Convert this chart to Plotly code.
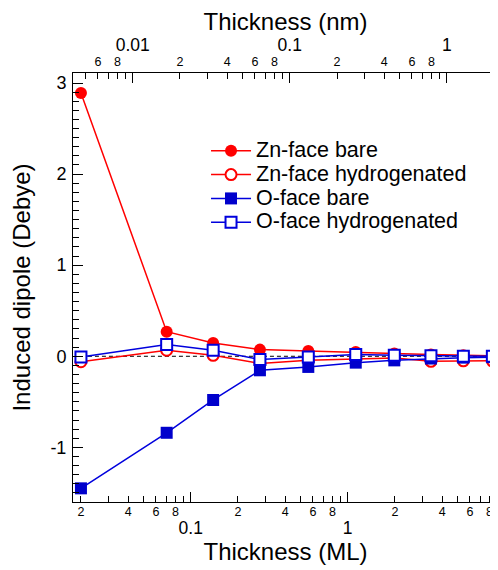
import math
import plotly.graph_objects as go

# ---------------- data ----------------
thickness_ml = [0.02, 0.0703, 0.139, 0.276, 0.561, 1.125, 1.98, 3.39, 5.45, 8.34]
zn_bare = [2.89, 0.27, 0.146, 0.073, 0.058, 0.047, 0.03, 0.02, 0.01, 0.005]
zn_hydro = [-0.06, 0.066, 0.01, -0.08, -0.045, -0.03, -0.02, -0.055, -0.05, -0.05]
o_bare = [-1.45, -0.84, -0.48, -0.154, -0.117, -0.07, -0.045, -0.025, -0.015, -0.01]
o_hydro = [-0.007, 0.13, 0.066, -0.036, -0.008, 0.02, 0.01, 0.005, 0.0, 0.0]

series_names = ["Zn-face bare", "Zn-face hydrogenated", "O-face bare", "O-face hydrogenated"]

nm_per_ml = 0.234  # scale between the two x axes

# tick labels
ml_major_vals = [0.1, 1]
ml_major_text = ["0.1", "1"]
ml_minor_vals = [m * d for d in (0.01, 0.1, 1) for m in range(2, 10)]
ml_minor_text = [str(m) if m % 2 == 0 else "" for d in (0.01, 0.1, 1) for m in range(2, 10)]

nm_major_vals = [0.01, 0.1, 1]
nm_major_text = ["0.01", "0.1", "1"]
nm_minor_vals = [m * d for d in (0.001, 0.01, 0.1, 1) for m in range(2, 10)]
nm_minor_text = [str(m) if m % 2 == 0 else "" for d in (0.001, 0.01, 0.1, 1) for m in range(2, 10)]

y_major_vals = [-1, 0, 1, 2, 3]
y_major_text = ["-1", "0", "1", "2", "3"]

# ---------------- figure ----------------
FONT = "Liberation Sans, Arial, Helvetica, sans-serif"
RED = "#ff0000"
BLUE = "#0000dd"

x_range = [math.log10(0.0178), math.log10(9.06)]
x_range_nm = [r + math.log10(nm_per_ml) for r in x_range]
thickness_nm = [v * nm_per_ml for v in thickness_ml]


def legend_label(name):
    return "<span style='font-size:21.5px'>" + name + "</span>"


fig = go.Figure()

# invisible carriers so that the secondary axes are drawn
for xa, xs in (("x2", thickness_nm), ("x3", thickness_ml), ("x4", thickness_nm)):
    fig.add_trace(go.Scatter(x=xs, y=zn_bare, xaxis=xa, yaxis="y", mode="markers",
                             marker=dict(opacity=0), showlegend=False, hoverinfo="skip"))

# zero reference line
fig.add_trace(go.Scatter(
    x=[thickness_ml[0], thickness_ml[-1]], y=[0, 0], mode="lines",
    line=dict(color="black", width=1, dash="4px,3px"), showlegend=False, hoverinfo="skip"))

fig.add_trace(go.Scatter(
    x=thickness_ml, y=zn_bare, name=legend_label(series_names[0]), mode="lines+markers",
    line=dict(color=RED, width=1.5),
    marker=dict(symbol="circle", size=12, color=RED, line=dict(width=0))))
fig.add_trace(go.Scatter(
    x=thickness_ml, y=zn_hydro, name=legend_label(series_names[1]), mode="lines+markers",
    line=dict(color=RED, width=1.5),
    marker=dict(symbol="circle", size=11, color="white", line=dict(width=2, color=RED))))
fig.add_trace(go.Scatter(
    x=thickness_ml, y=o_bare, name=legend_label(series_names[2]), mode="lines+markers",
    line=dict(color=BLUE, width=1.5),
    marker=dict(symbol="square", size=12, color="#0000cc", line=dict(width=0))))
fig.add_trace(go.Scatter(
    x=thickness_ml, y=o_hydro, name=legend_label(series_names[3]), mode="lines+markers",
    line=dict(color=BLUE, width=1.5),
    marker=dict(symbol="square", size=11, color="white", line=dict(width=2, color=BLUE))))

base = dict(showgrid=False, zeroline=False, automargin=False, tickcolor="black",
            ticks="inside", tickmode="array", ticklabeloverflow="allow")

# the page body adds an 8px offset; the plot area spans page x 73..498
fig.update_layout(
    width=498, height=562,
    margin=dict(l=65, r=8, t=65, b=68),
    paper_bgcolor="white", plot_bgcolor="white",
    font=dict(family=FONT, color="black"),
    showlegend=True,
    legend=dict(x=0.313, y=0.858, xanchor="left", yanchor="top",
                font=dict(size=16, family=FONT), bgcolor="rgba(0,0,0,0)",
                itemwidth=40, tracegroupgap=0),
    xaxis=dict(
        type="log", range=x_range, **base, ticklen=10,
        showline=True, linecolor="black", linewidth=1,
        tickvals=ml_major_vals, ticktext=ml_major_text,
        tickfont=dict(size=17.5), ticklabelstandoff=10,
        title=dict(text="Thickness (ML)", font=dict(size=24), standoff=2),
        anchor="y"),
    xaxis3=dict(
        type="log", range=x_range, overlaying="x", anchor="y", side="bottom",
        **base, ticklen=6, showline=False,
        tickvals=ml_minor_vals, ticktext=ml_minor_text,
        tickfont=dict(size=12.5), ticklabelstandoff=0),
    xaxis2=dict(
        type="log", range=x_range_nm, overlaying="x", anchor="y", side="top",
        **base, ticklen=10, showline=True, linecolor="black", linewidth=1,
        tickvals=nm_major_vals, ticktext=nm_major_text,
        tickfont=dict(size=17.5), ticklabelstandoff=14,
        title=dict(text="Thickness (nm)", font=dict(size=24), standoff=15)),
    xaxis4=dict(
        type="log", range=x_range_nm, overlaying="x", anchor="y", side="top",
        **base, ticklen=6, showline=False,
        tickvals=nm_minor_vals, ticktext=nm_minor_text,
        tickfont=dict(size=12.5), ticklabelstandoff=4),
    yaxis=dict(
        range=[-1.6, 3.11], **base, ticklen=10,
        showline=True, linecolor="black", linewidth=1,
        tickvals=y_major_vals, ticktext=y_major_text,
        tickfont=dict(size=18), ticklabelstandoff=2,
        minor=dict(dtick=0.1, ticklen=6, tickcolor="black", ticks="inside"),
        title=dict(text="Induced dipole (Debye)", font=dict(size=24), standoff=12),
        anchor="x"),
)

fig.write_html("out.html")
